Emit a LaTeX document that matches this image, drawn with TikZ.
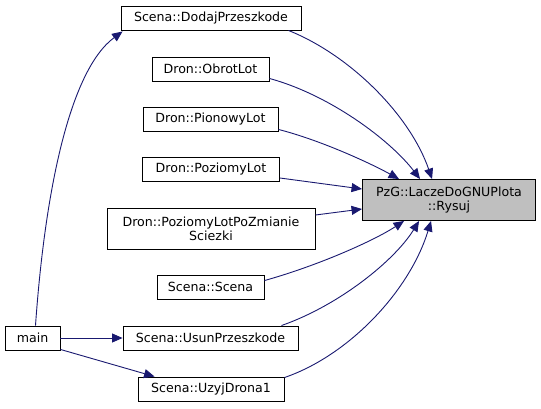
\documentclass[tikz,border=0pt]{standalone}
\usepackage{fontspec}
\setmainfont{DejaVu Sans}
\usetikzlibrary{arrows.meta,calc}
\definecolor{edgeblue}{HTML}{191970}
\definecolor{hlgray}{HTML}{BFBFBF}
\begin{document}
\begin{tikzpicture}[x=1pt,y=-1pt,
  fn/.style={draw=black,line width=0.9pt,rectangle,inner sep=0pt,align=center,
     font=\fontsize{12.6}{14}\selectfont},
  cl/.style={draw=edgeblue,line width=0.9pt,-{Triangle[length=10.5pt,width=9pt]}}]
\useasboundingbox (0,0) rectangle (541,408);
\node[fn,minimum width=180,minimum height=24] (dp) at (211,18) {Scena::DodajPrzeszkode};
\node[fn,minimum width=117,minimum height=24] (ol) at (210.5,69) {Dron::ObrotLot};
\node[fn,minimum width=135,minimum height=24] (pl) at (210.5,119) {Dron::PionowyLot};
\node[fn,minimum width=137,minimum height=24] (pz) at (211,169) {Dron::PoziomyLot};
\node[fn,minimum width=208,minimum height=41] (pzs) at (211,229) {Dron::PoziomyLotPoZmianie\\Sciezki};
\node[fn,minimum width=107,minimum height=24] (sc) at (210.5,287) {Scena::Scena};
\node[fn,minimum width=55,minimum height=24] (mn) at (32.5,338) {main};
\node[fn,minimum width=175,minimum height=24] (up) at (210.5,338) {Scena::UsunPrzeszkode};
\node[fn,minimum width=146,minimum height=24] (ud) at (211,389) {Scena::UzyjDrona1};
\node[fn,fill=hlgray,minimum width=173,minimum height=41] (ry) at (449,200) {PzG::LaczeDoGNUPlota\\::Rysuj};
% edges to Rysuj
\draw[cl] ($(dp.south east)+(-13,0)$) .. controls (350,55) and (410,115) .. ($(ry.north west)+(70,0)$);
\draw[cl] ($(ol.south east)+(0,-3)$) .. controls (330,95) and (390,140) .. ($(ry.north west)+(58,0)$);
\draw[cl] ($(pl.south east)+(0,-2)$) .. controls (320,140) and (370,163) .. ($(ry.north west)+(37,0)$);
\draw[cl] ($(pz.east)+(0,9)$) -- ($(ry.west)+(0,-11)$);
\draw[cl] ($(pzs.east)+(0,-14)$) -- ($(ry.west)+(0,9)$);
\draw[cl] ($(sc.north east)+(0,6)$) .. controls (320,265) and (375,240) .. ($(ry.south west)+(42,0)$);
\draw[cl] ($(up.north east)+(-17,0)$) .. controls (340,305) and (395,260) .. ($(ry.south west)+(57,0)$);
\draw[cl] ($(ud.north east)+(0,1)$) .. controls (350,355) and (410,290) .. ($(ry.south west)+(69,0)$);
% edges from main
\draw[cl] ($(mn.north)+(3,0)$) .. controls (45,190) and (70,70) .. ($(dp.south west)+(2,1)$);
\draw[cl] (mn.east) -- (up.west);
\draw[cl] ($(mn.south east)+(0,-1)$) -- ($(ud.north west)+(17,0)$);
\end{tikzpicture}
\end{document}
